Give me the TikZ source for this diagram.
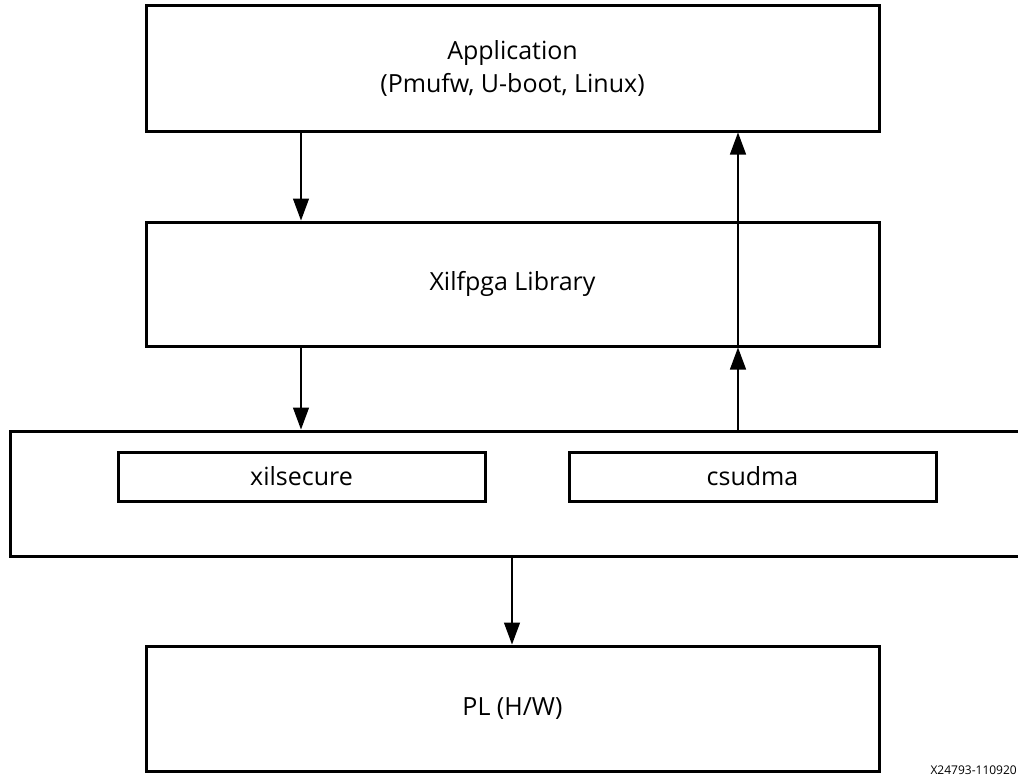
\documentclass[tikz,border=0pt]{standalone}
\usepackage{fontspec}
\setmainfont{Open Sans}
\usetikzlibrary{arrows.meta}
\begin{document}
\begin{tikzpicture}[x=1pt,y=-1pt,
  blk/.style={draw=black,line width=3pt,fill=white,inner sep=0pt,align=center,font=\fontsize{25}{33}\selectfont},
  arr/.style={line width=1.3pt,-{Triangle[length=22pt,width=16pt]}}]
\useasboundingbox[fill=white] (0,0) rectangle (1018,776);
\node[blk,minimum width=733pt,minimum height=125pt] (app) at (512.5,68.5) {Application\\(Pmufw, U-boot, Linux)};
\node[blk,minimum width=733pt,minimum height=124pt] (xil) at (512.5,284) {Xilfpga Library};
\node[blk,minimum width=1020pt,minimum height=125pt] (outer) at (520,493.5) {};
\node[blk,minimum width=367pt,minimum height=49pt] (sec) at (301.5,476.5) {xilsecure};
\node[blk,minimum width=367pt,minimum height=49pt] (dma) at (752.5,476.5) {csudma};
\node[blk,minimum width=733pt,minimum height=125pt] (pl) at (512.5,708.5) {PL (H/W)};
\node[anchor=base east,inner sep=0pt,font=\fontsize{12}{14}\selectfont] (foot) at (1017,774) {X24793-110920};
\coordinate (c1) at (301,0);
\coordinate (c2) at (738,0);
\coordinate (c3) at (512,0);
\draw[arr] (app.south -| c1) -- (xil.north -| c1);
\draw[arr] (xil.south -| c2) -- (app.south -| c2);
\draw[arr] (xil.south -| c1) -- (outer.north -| c1);
\draw[arr] (outer.north -| c2) -- (xil.south -| c2);
\draw[arr] (outer.south -| c3) -- (pl.north -| c3);
\end{tikzpicture}
\end{document}
